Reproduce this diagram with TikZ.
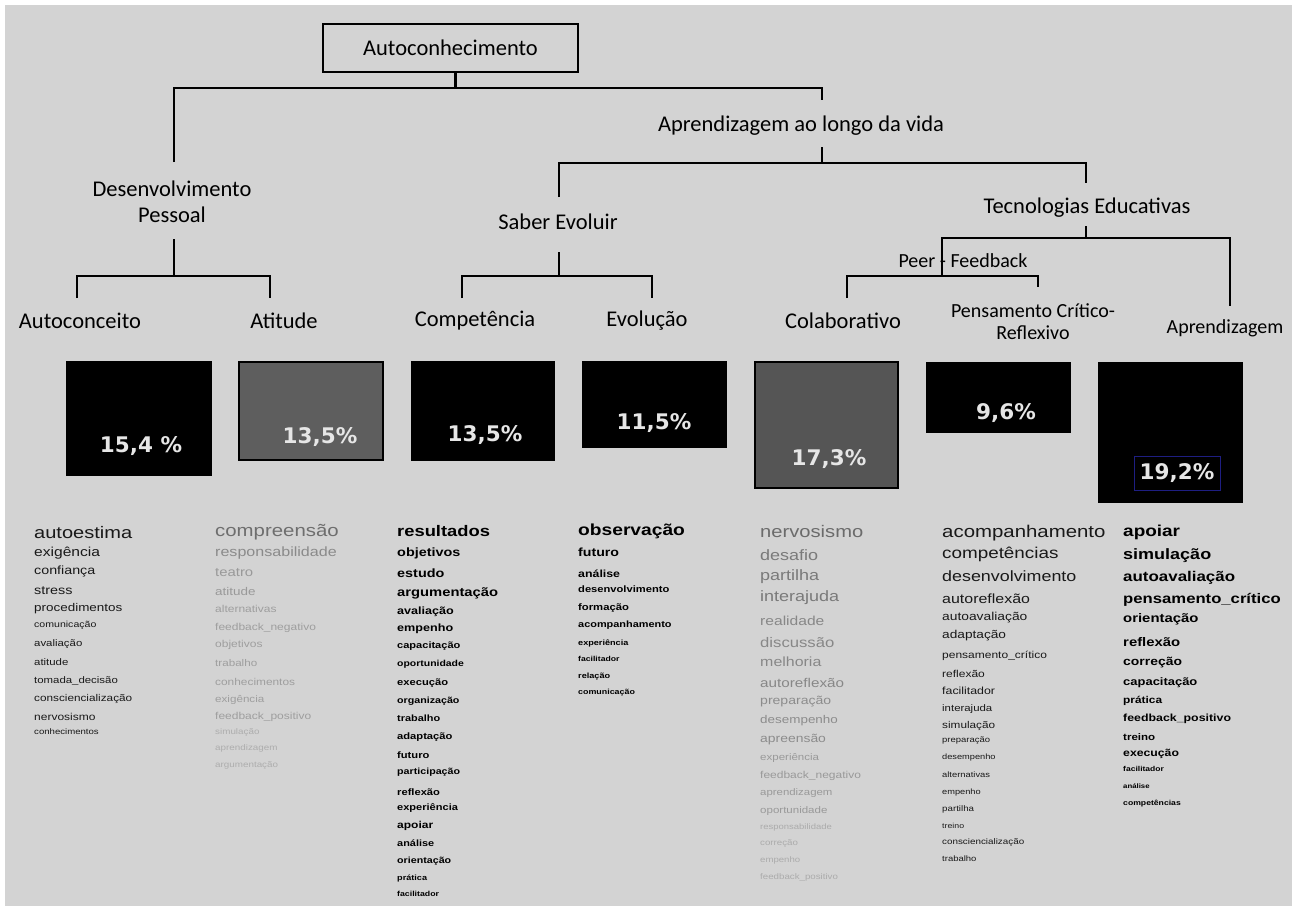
\documentclass[tikz,border=0pt]{standalone}
\usepackage{fontspec}
\setmainfont{Carlito}
\newfontfamily\listfont[FakeStretch=1.2]{Liberation Sans}
\newfontfamily\pctfont{DejaVu Sans}
\usetikzlibrary{calc}
\definecolor{mapbg}{RGB}{211,211,211}
\definecolor{mapgrey}{RGB}{94,94,94}
\definecolor{mapgreyb}{RGB}{85,85,85}
\definecolor{pctlabel}{RGB}{230,230,230}
\definecolor{pctframe}{RGB}{30,30,130}

\begin{document}
\begin{tikzpicture}[x=1pt, y=-1pt,
    branch/.style={line width=2.2pt},
    heading/.style={font=\fontsize{22.5}{26}\selectfont, inner sep=0pt, align=center},
    subhead/.style={font=\fontsize{20}{22}\selectfont, inner sep=0pt, align=center},
    pctbox/.style={draw=black, line width=1pt, inner sep=0pt},
    pct/.style={font=\pctfont\bfseries\fontsize{21.5}{21.5}\selectfont, text=pctlabel, inner sep=0pt},
    word/.style={anchor=base west, inner sep=0pt}]
    \useasboundingbox (0,0) rectangle (1292,906);
    \fill[white] (0,0) rectangle (1292,906);
    \fill[mapbg] (5,5) rectangle (1292,906);

    \node[heading, draw, line width=1.5pt, minimum width=255, minimum height=48] (root) at (450.5,48) {Autoconhecimento};
    \node[heading] (dp) at (172,202) {Desenvolvimento\\Pessoal};
    \node[heading] (alv) at (801,126) {Aprendizagem ao longo da vida};
    \node[heading] (se) at (558,222) {Saber Evoluir};
    \node[heading] (te) at (1087,208) {Tecnologias Educativas};
    \node[heading] (ac) at (80,321) {Autoconceito};
    \node[heading] (at) at (284,321) {Atitude};
    \node[heading] (co) at (475,321) {Competência};
    \node[heading] (ev) at (647,321) {Evolução};
    \node[heading] (cl) at (843,321) {Colaborativo};
    \node[subhead] (pc) at (1033,322) {Pensamento Crítico-\\Reflexivo};
    \node[subhead] (ap) at (1225,328) {Aprendizagem};
    \node[subhead] (pf) at (963,261) {Peer - Feedback};

    \draw[branch] (root.south) ++(5,0) -- ++(0,15) coordinate (j0);
    \draw[branch] ([xshift=2pt,yshift=40pt]dp.center) |- (j0) -| ([xshift=21pt,yshift=26pt]alv.center);
    \draw[branch] ([xshift=21pt,yshift=-21pt]alv.center) -- ++(0,16) coordinate (j1);
    \draw[branch] ([xshift=1pt,yshift=25pt]se.center) |- (j1) -| ([xshift=-1pt,yshift=25pt]te.center);
    \draw[branch] ([xshift=2pt,yshift=-37pt]dp.center) -- ++(0,37) coordinate (j2);
    \draw[branch] ([xshift=-3pt,yshift=23pt]ac.center) |- (j2) -| ([xshift=-14pt,yshift=23pt]at.center);
    \draw[branch] ([xshift=1pt,yshift=-30pt]se.center) -- ++(0,24) coordinate (j3);
    \draw[branch] ([xshift=-13pt,yshift=23pt]co.center) |- (j3) -| ([xshift=5pt,yshift=23pt]ev.center);
    \draw[branch] ([xshift=-1pt,yshift=-18pt]te.center) -- ++(0,12) coordinate (j4);
    \coordinate (j5) at (942,276);
    \draw[branch] (j5) |- (j4) -| ([xshift=5pt,yshift=22pt]ap.center);
    \draw[branch] ([xshift=4pt,yshift=23pt]cl.center) |- (j5) -| ([xshift=5pt,yshift=35pt]pc.center);

    \node[pctbox, fill=black, minimum width=145, minimum height=114] (acbox) at (138.5,418) {};
    \node[pctbox, fill=mapgrey, line width=1.5pt, minimum width=144, minimum height=98] (atbox) at (311,411) {};
    \node[pctbox, fill=black, minimum width=143, minimum height=99] (cobox) at (482.5,410.5) {};
    \node[pctbox, fill=black, minimum width=144, minimum height=86] (evbox) at (654,404) {};
    \node[pctbox, fill=mapgreyb, line width=1.5pt, minimum width=143, minimum height=126] (clbox) at (826.5,425) {};
    \node[pctbox, fill=black, minimum width=144, minimum height=70] (pcbox) at (998,397) {};
    \node[pctbox, fill=black, minimum width=144, minimum height=140] (apbox) at (1170,432) {};
    \node[pct] (acpct) at (141,446) {15,4 \%};
    \node[pct] (atpct) at (320,437) {13,5\%};
    \node[pct] (copct) at (485,435) {13,5\%};
    \node[pct] (evpct) at (654,423) {11,5\%};
    \node[pct] (clpct) at (829,459) {17,3\%};
    \node[pct] (pcpct) at (1006,413) {9,6\%};
    \node[pct, draw=pctframe, line width=0.8pt, minimum width=86, minimum height=34] (appct) at (1177,473) {19,2\%};

    \foreach \sz/\yy/\word [count=\i] in {16.7/533/autoestima, 13/552/exigência, 11.9/571/confiança, 12/591/stress,
        11.2/608/procedimentos, 8.8/625/comunicação, 9.5/643/avaliação, 9.5/662/atitude, 9.5/680/tomada\_decisão,
        9.8/698/consciencialização, 10/717/nervosismo, 8/732/conhecimentos}
      \node[word, text=black!90, font=\listfont\fontsize{\sz}{\sz}\selectfont] (acw\i) at (34,{\yy+0.32*\sz}) {\word};

    \foreach \sz/\yy/\gr/\word [count=\i] in {17/531/57/compreensão, 13.4/552/46/responsabilidade, 12.4/573/40/teatro,
        11.2/592/40/atitude, 10/609/38/alternativas, 10/627/38/feedback\_negativo, 10/644/38/objetivos,
        9.7/663/38/trabalho, 9.9/682/38/conhecimentos, 9.7/699/38/exigência, 10/716/38/feedback\_positivo,
        8.2/732/32/simulação, 8.2/748/32/aprendizagem, 8.2/765/32/argumentação}
      \node[word, text=black!\gr, font=\listfont\fontsize{\sz}{\sz}\selectfont] (atw\i) at (215,{\yy+0.32*\sz}) {\word};

    \foreach \sz/\yy/\word [count=\i] in {15.3/532/resultados, 12/553/objetivos, 12/574/estudo, 12.3/593/argumentação,
        10.5/611/avaliação, 10.5/628/empenho, 9.2/646/capacitação, 8.7/664/oportunidade, 9.3/683/execução,
        8.9/701/organização, 9.1/719/trabalho, 9.3/737/adaptação, 9.3/756/futuro, 8.9/772/participação,
        9.3/793/reflexão, 9.2/808/experiência, 10/825/apoiar, 9.1/844/análise, 8.9/861/orientação,
        7.6/878/prática, 7.3/894/facilitador}
      \node[word, font=\listfont\bfseries\fontsize{\sz}{\sz}\selectfont] (cow\i) at (397,{\yy+0.32*\sz}) {\word};

    \foreach \sz/\yy/\word [count=\i] in {16/530/observação, 11.8/553/futuro, 10.3/574/análise, 9.3/590/desenvolvimento,
        9.4/607/formação, 9.1/625/acompanhamento, 7.6/643/experiência, 7.2/659/facilitador, 7.6/676/relação,
        7.4/692/comunicação}
      \node[word, font=\listfont\bfseries\fontsize{\sz}{\sz}\selectfont] (evw\i) at (578,{\yy+0.32*\sz}) {\word};

    \foreach \sz/\yy/\gr/\word [count=\i] in {16.8/532/58/nervosismo, 15/556/52/desafio, 15/576/52/partilha,
        15/597/52/interajuda, 13/621/47/realidade, 13.9/643/47/discussão, 13.3/662/47/melhoria,
        12.7/683/47/autoreflexão, 11.7/701/45/preparação, 11.2/720/45/desempenho, 11.6/739/45/apreensão,
        9.6/757/40/experiência, 10/775/40/feedback\_negativo, 9.5/792/40/aprendizagem, 9.6/810/40/oportunidade,
        7.9/827/33/responsabilidade, 8.1/843/33/correção, 8/860/33/empenho, 8.1/877/33/feedback\_positivo}
      \node[word, text=black!\gr, font=\listfont\fontsize{\sz}{\sz}\selectfont] (clw\i) at (760,{\yy+0.32*\sz}) {\word};

    \foreach \sz/\yy/\word [count=\i] in {17/532/acompanhamento, 15.7/553/competências, 14.9/577/desenvolvimento,
        13.3/599/autoreflexão, 11.5/617/autoavaliação, 11.4/635/adaptação, 10/655/pensamento\_crítico,
        10/674/reflexão, 10.3/691/facilitador, 9.5/708/interajuda, 9.8/725/simulação, 7.9/740/preparação,
        7.7/757/desempenho, 7.8/775/alternativas, 7.7/792/empenho, 8.1/809/partilha, 7.3/826/treino,
        8.2/842/consciencialização, 7.9/859/trabalho}
      \node[word, text=black!90, font=\listfont\fontsize{\sz}{\sz}\selectfont] (pcw\i) at (942,{\yy+0.32*\sz}) {\word};

    \foreach \sz/\yy/\word [count=\i] in {15.8/531/apoiar, 15/555/simulação, 14.1/577/autoavaliação,
        13.9/599/pensamento\_crítico, 12.4/619/orientação, 12.4/643/reflexão, 11.6/662/correção,
        10.8/682/capacitação, 9.9/700/prática, 10.3/718/feedback\_positivo, 9.6/737/treino, 10.2/753/execução,
        7.1/769/facilitador, 6.5/786/análise, 7.2/803/competências}
      \node[word, font=\listfont\bfseries\fontsize{\sz}{\sz}\selectfont] (apw\i) at (1123,{\yy+0.32*\sz}) {\word};
\end{tikzpicture}
\end{document}
